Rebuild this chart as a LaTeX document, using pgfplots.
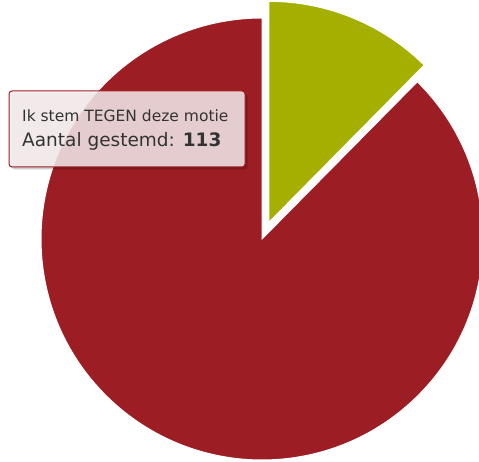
\documentclass[border=0pt]{standalone}
\usepackage{pgfplots}
\usepackage{pgfplotstable}
\usepackage{fontspec}
\setmainfont{DejaVu Sans}
\pgfplotsset{compat=1.18}
\definecolor{tegen}{HTML}{9C1E24}
\definecolor{voor}{HTML}{A4AF00}
\definecolor{tipbg}{RGB}{248,238,239}
\definecolor{tiptext}{HTML}{333333}

\pgfplotstableread{
stem aantal
voor 16
tegen 113
}\stemmen

\begin{document}
\begin{tikzpicture}
\pgfplotstablegetelem{0}{aantal}\of\stemmen \let\voor\pgfplotsretval
\pgfplotstablegetelem{1}{aantal}\of\stemmen \let\tegen\pgfplotsretval
\pgfmathsetmacro\hoek{360*\voor/(\voor+\tegen)}
\pgfmathsetmacro\eind{90-\hoek}
\pgfmathsetmacro\mid{90-\hoek/2}
\begin{axis}[
  name=ax,
  scale only axis, width=479pt, height=462pt,
  xmin=0, xmax=479, ymin=0, ymax=462,
  hide axis]
  % rode taart (tegen)
  \fill[tegen, draw=white, line width=1pt] (axis cs:262,223) -- ++(\eind:221pt)
    arc[start angle=\eind, end angle=-270, radius=221pt] -- cycle;
  % groene taartpunt (voor), uitgeschoven
  \fill[voor, draw=white, line width=1pt] ([shift={(\mid:18pt)}]axis cs:262,223) -- ++(90:221pt)
    arc[start angle=90, end angle=\eind, radius=221pt] -- cycle;
  % tooltip
  \fill[black, opacity=0.12, rounded corners=3pt] (axis cs:11,293) rectangle (axis cs:247,369);
  \fill[black, opacity=0.08, rounded corners=3pt] (axis cs:12,292) rectangle (axis cs:248,368);
  \filldraw[fill=tipbg, fill opacity=0.85, draw=tegen, line width=1pt, rounded corners=3pt]
    (axis cs:9,295) rectangle (axis cs:245,371);
  \node[anchor=base west, inner sep=0pt, text=tiptext, font=\fontsize{15.5}{18}\selectfont]
    at (axis cs:22,340) {Ik stem TEGEN deze motie};
  \node[anchor=base west, inner sep=0pt, text=tiptext, font=\fontsize{18.5}{22}\selectfont]
    at (axis cs:22,315) {Aantal gestemd: \textbf{113}};
\end{axis}
\pgfresetboundingbox
\useasboundingbox (ax.south west) rectangle (ax.north east);
\end{tikzpicture}
\end{document}
